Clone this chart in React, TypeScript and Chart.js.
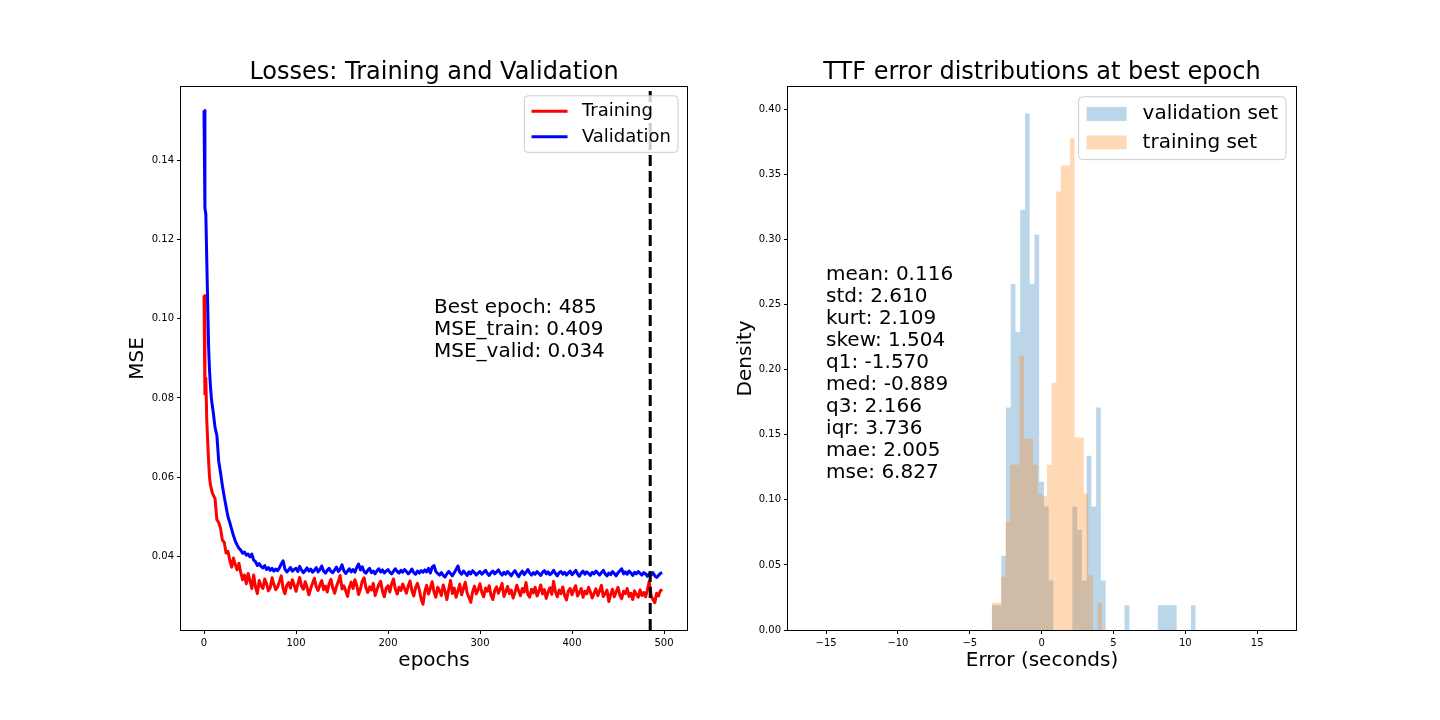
import React, { useEffect, useRef } from "react";
import { Chart, registerables } from "chart.js";

Chart.register(...registerables);

const FONT = "'DejaVu Sans', 'Liberation Sans', sans-serif";

// ---------------- Left panel: training / validation losses ----------------
const epochs = [
  0, 1, 2, 3, 4, 5, 6, 7, 8, 9,
  10, 12, 14, 16, 18, 20, 22, 24, 26, 28,
  30, 32, 34, 36, 38, 40, 42, 44, 46, 48,
  50, 52, 54, 56, 58,
  60, 62, 64, 66, 68, 70, 72, 74, 76, 78,
  80, 82, 84, 86, 88, 90, 92, 94, 96, 98,
  100, 102, 104, 106, 108, 110, 112, 114, 116, 118,
  120, 122, 124, 126, 128, 130, 132, 134, 136, 138,
  140, 142, 144, 146, 148, 150, 152, 154, 156, 158,
  160, 162, 164, 166, 168, 170, 172, 174, 176, 178,
  180, 182, 184, 186, 188, 190, 192, 194, 196, 198,
  200, 202, 204, 206, 208, 210, 212, 214, 216, 218,
  220, 222, 224, 226, 228, 230, 232, 234, 236, 238,
  240, 242, 244, 246, 248, 250, 252, 254, 256, 258,
  260, 262, 264, 266, 268, 270, 272, 274, 276, 278,
  280, 282, 284, 286, 288, 290, 292, 294, 296, 298,
  300, 302, 304, 306, 308, 310, 312, 314, 316, 318,
  320, 322, 324, 326, 328, 330, 332, 334, 336, 338,
  340, 342, 344, 346, 348, 350, 352, 354, 356, 358,
  360, 362, 364, 366, 368, 370, 372, 374, 376, 378,
  380, 382, 384, 386, 388, 390, 392, 394, 396, 398,
  400, 402, 404, 406, 408, 410, 412, 414, 416, 418,
  420, 422, 424, 426, 428, 430, 432, 434, 436, 438,
  440, 442, 444, 446, 448, 450, 452, 454, 456, 458,
  460, 462, 464, 466, 468, 470, 472, 474, 476, 478,
  480, 482, 484, 486, 488, 490, 492, 494, 496, 498,
];

const trainLoss = [
  0.1059, 0.0810, 0.0850, 0.0745, 0.0690, 0.0640, 0.0600, 0.0580, 0.0570, 0.0560,
  0.0555, 0.0545, 0.0492, 0.0485, 0.0470, 0.0440, 0.0435, 0.0408, 0.0412, 0.0390,
  0.0372, 0.0395, 0.0378, 0.0365, 0.0382, 0.0358, 0.0340, 0.0352, 0.0330, 0.0356,
  0.0338, 0.0318, 0.0352, 0.0322, 0.0305,
  0.0338, 0.0325, 0.0318, 0.0342, 0.0330, 0.0312, 0.0320, 0.0345, 0.0328, 0.0315,
  0.0322, 0.0336, 0.0350, 0.0318, 0.0305, 0.0326, 0.0333, 0.0319, 0.0340, 0.0327,
  0.0311, 0.0329, 0.0346, 0.0323, 0.0316, 0.0335, 0.0320, 0.0302, 0.0318, 0.0331,
  0.0344, 0.0322, 0.0313, 0.0327, 0.0338, 0.0315, 0.0324, 0.0309, 0.0330, 0.0341,
  0.0319, 0.0306, 0.0323, 0.0336, 0.0351, 0.0317, 0.0325, 0.0312, 0.0298, 0.0321,
  0.0334, 0.0318, 0.0340, 0.0326, 0.0303, 0.0316, 0.0337, 0.0345, 0.0320, 0.0308,
  0.0322, 0.0314, 0.0331, 0.0300, 0.0315, 0.0328, 0.0336, 0.0311, 0.0297, 0.0319,
  0.0325, 0.0309, 0.0330, 0.0342, 0.0316, 0.0304, 0.0321, 0.0313, 0.0329, 0.0318,
  0.0306, 0.0324, 0.0337, 0.0312, 0.0299, 0.0320, 0.0331, 0.0315, 0.0292, 0.0278,
  0.0310, 0.0326, 0.0304, 0.0318, 0.0335, 0.0309, 0.0296, 0.0321, 0.0313, 0.0300,
  0.0327, 0.0311, 0.0290, 0.0316, 0.0338, 0.0305, 0.0319, 0.0296, 0.0312, 0.0329,
  0.0302, 0.0318, 0.0334, 0.0307, 0.0295, 0.0283, 0.0310, 0.0324, 0.0304, 0.0315,
  0.0330, 0.0308, 0.0297, 0.0319, 0.0311, 0.0325, 0.0301, 0.0290, 0.0313, 0.0322,
  0.0306, 0.0317, 0.0331, 0.0298, 0.0310, 0.0323, 0.0305, 0.0314, 0.0294, 0.0308,
  0.0326, 0.0312, 0.0300, 0.0318, 0.0309, 0.0333, 0.0303, 0.0296, 0.0316, 0.0307,
  0.0321, 0.0299, 0.0311, 0.0327, 0.0304, 0.0315, 0.0293, 0.0309, 0.0320, 0.0303,
  0.0336, 0.0310, 0.0297, 0.0314, 0.0305, 0.0322, 0.0300, 0.0289, 0.0312, 0.0318,
  0.0302, 0.0315, 0.0325, 0.0299, 0.0308, 0.0318, 0.0296, 0.0311, 0.0304, 0.0321,
  0.0309, 0.0294, 0.0306, 0.0317, 0.0300, 0.0312, 0.0326, 0.0298, 0.0305, 0.0314,
  0.0285, 0.0303, 0.0316, 0.0297, 0.0309, 0.0321, 0.0301, 0.0292, 0.0311, 0.0305,
  0.0318, 0.0298, 0.0306, 0.0290, 0.0312, 0.0303, 0.0296, 0.0314, 0.0300, 0.0308,
  0.0297, 0.0315, 0.0336, 0.0300, 0.0290, 0.0282, 0.0306, 0.0299, 0.0312, 0.0316,
];

const validLoss = [
  0.1527, 0.1280, 0.1265, 0.1150, 0.1040, 0.0930, 0.0870, 0.0830, 0.0800, 0.0780,
  0.0765, 0.0725, 0.0705, 0.0640, 0.0610, 0.0578, 0.0550, 0.0525, 0.0500, 0.0485,
  0.0468, 0.0452, 0.0438, 0.0428, 0.0420, 0.0415, 0.0407, 0.0410, 0.0402, 0.0405,
  0.0398, 0.0405, 0.0390, 0.0386, 0.0376,
  0.0381, 0.0374, 0.0370, 0.0376, 0.0366, 0.0371, 0.0364, 0.0369, 0.0362, 0.0367,
  0.0363, 0.0370, 0.0380, 0.0388, 0.0367, 0.0360, 0.0365, 0.0371, 0.0362, 0.0366,
  0.0369, 0.0361, 0.0374, 0.0365, 0.0358, 0.0363, 0.0370, 0.0362, 0.0367, 0.0359,
  0.0364, 0.0371, 0.0360, 0.0366, 0.0375, 0.0362, 0.0357, 0.0364, 0.0369, 0.0361,
  0.0358, 0.0365, 0.0372, 0.0361, 0.0367, 0.0378, 0.0363, 0.0356, 0.0362, 0.0368,
  0.0360, 0.0366, 0.0359, 0.0371, 0.0380, 0.0365, 0.0373, 0.0361, 0.0357, 0.0364,
  0.0369, 0.0358, 0.0362, 0.0355, 0.0363, 0.0368, 0.0360, 0.0365, 0.0357, 0.0362,
  0.0366, 0.0359, 0.0355, 0.0362, 0.0368, 0.0361, 0.0357, 0.0364, 0.0359, 0.0366,
  0.0361, 0.0355, 0.0360, 0.0367, 0.0358, 0.0354, 0.0362, 0.0357, 0.0363, 0.0359,
  0.0365, 0.0360, 0.0369, 0.0357, 0.0372, 0.0376, 0.0361, 0.0356, 0.0352, 0.0358,
  0.0351, 0.0347, 0.0355, 0.0361, 0.0356, 0.0350, 0.0358, 0.0366, 0.0375, 0.0359,
  0.0354, 0.0362, 0.0357, 0.0351, 0.0360, 0.0355, 0.0363, 0.0358, 0.0352, 0.0357,
  0.0361, 0.0354, 0.0359, 0.0364, 0.0356, 0.0351, 0.0358, 0.0362, 0.0355, 0.0360,
  0.0365, 0.0357, 0.0352, 0.0359, 0.0354, 0.0361, 0.0356, 0.0350, 0.0358, 0.0363,
  0.0355, 0.0348, 0.0356, 0.0362, 0.0353, 0.0359, 0.0366, 0.0357, 0.0352, 0.0358,
  0.0354, 0.0361, 0.0356, 0.0351, 0.0359, 0.0363, 0.0355, 0.0360, 0.0353, 0.0357,
  0.0364, 0.0356, 0.0350, 0.0358, 0.0361, 0.0354, 0.0359, 0.0352, 0.0357, 0.0362,
  0.0353, 0.0358, 0.0364, 0.0355, 0.0349, 0.0357, 0.0362, 0.0354, 0.0360, 0.0356,
  0.0351, 0.0359, 0.0355, 0.0362, 0.0357, 0.0352, 0.0358, 0.0364, 0.0355, 0.0350,
  0.0357, 0.0353, 0.0361, 0.0356, 0.0350, 0.0358, 0.0363, 0.0368, 0.0355, 0.0360,
  0.0354, 0.0362, 0.0357, 0.0351, 0.0359, 0.0355, 0.0361, 0.0356, 0.0352, 0.0358,
  0.0355, 0.0349, 0.0356, 0.0352, 0.0358, 0.0350, 0.0346, 0.0351, 0.0356, 0.0358,
];

const lossLabels = ["Training", "Validation"];
const lossColors = ["#ff0000", "#0000ff"];
const bestEpoch = 485;
const bestNotes = ["Best epoch: 485", "MSE_train: 0.409", "MSE_valid: 0.034"];

// ---------------- Right panel: error histograms ----------------
const validBinEdges = [
  -3.47, -3.14, -2.81, -2.48, -2.15, -1.82, -1.49, -1.16, -0.83, -0.5,
  -0.17, 0.16, 0.49, 0.82, 1.15, 1.48, 1.81, 2.14, 2.47, 2.8,
  3.13, 3.46, 3.79, 4.12, 4.45, 4.78, 5.11, 5.44, 5.77, 6.1,
  6.43, 6.76, 7.09, 7.42, 7.75, 8.08, 8.41, 8.74, 9.07, 9.4,
  9.73, 10.06, 10.39, 10.72,
];
const validDensity = [
  0.019, 0.019, 0.057, 0.171, 0.266, 0.229, 0.323, 0.397, 0.266, 0.304,
  0.114, 0.095, 0.038, 0, 0, 0, 0, 0.095, 0.077, 0.038,
  0.134, 0.095, 0.171, 0.038, 0, 0, 0, 0, 0.019, 0,
  0, 0, 0, 0, 0, 0.019, 0.019, 0.019, 0.019, 0,
  0, 0, 0.019,
];
const trainBinEdges = [
  -3.47, -3.15, -2.83, -2.51, -2.19, -1.87, -1.55, -1.23, -0.91, -0.59,
  -0.27, 0.05, 0.37, 0.69, 1.01, 1.33, 1.65, 1.97, 2.29, 2.61,
  2.93, 3.25, 3.57, 3.89, 4.21,
];
const trainDensity = [
  0.021, 0.021, 0.041, 0.083, 0.127, 0.127, 0.211, 0.147, 0.147, 0.127,
  0.105, 0.103, 0.127, 0.19, 0.337, 0.357, 0.357, 0.378, 0.148, 0.148,
  0.105, 0.042, 0, 0.021,
];
const histLabels = ["validation set", "training set"];
const histColors = ["rgba(31,119,180,0.3)", "rgba(255,127,14,0.3)"];
const statLines = [
  "mean: 0.116",
  "std: 2.610",
  "kurt: 2.109",
  "skew: 1.504",
  "q1: -1.570",
  "med: -0.889",
  "q3: 2.166",
  "iqr: 3.736",
  "mae: 2.005",
  "mse: 6.827",
];

// ---------------- helpers ----------------
function histPoints(edges: number[], dens: number[]) {
  return edges.map((e, i) => ({ x: e, y: i < dens.length ? dens[i] : 0 }));
}

type LegendItem = { label: string; color: string; kind: "line" | "patch" };

function drawLegend(ctx: CanvasRenderingContext2D, area: any, items: LegendItem[], fs: number) {
  ctx.save();
  ctx.font = `${fs}px ${FONT}`;
  const pad = 0.4 * fs;
  const rowH = 0.92 * fs;
  const gap = 0.5 * fs;
  const hl = 2 * fs;
  const hp = 0.8 * fs;
  const tw = Math.max(...items.map((i) => ctx.measureText(i.label).width));
  const w = pad + hl + hp + tw + pad;
  const h = 2 * pad + items.length * rowH + (items.length - 1) * gap;
  const right = area.right - 0.5 * fs;
  const top = area.top + 0.5 * fs;
  const left = right - w;
  ctx.beginPath();
  (ctx as any).roundRect(left, top, w, h, 0.2 * fs);
  ctx.fillStyle = "rgba(255,255,255,0.8)";
  ctx.fill();
  ctx.strokeStyle = "#cccccc";
  ctx.lineWidth = 1;
  ctx.stroke();
  items.forEach((it, i) => {
    const cy = top + pad + rowH / 2 + i * (rowH + gap);
    if (it.kind === "line") {
      ctx.beginPath();
      ctx.moveTo(left + pad, cy);
      ctx.lineTo(left + pad + hl, cy);
      ctx.strokeStyle = it.color;
      ctx.lineWidth = 3;
      ctx.lineCap = "butt";
      ctx.stroke();
    } else {
      ctx.fillStyle = it.color;
      ctx.fillRect(left + pad, cy - 0.35 * fs, hl, 0.7 * fs);
    }
    ctx.fillStyle = "#000";
    ctx.textAlign = "left";
    ctx.textBaseline = "middle";
    ctx.fillText(it.label, left + pad + hl + hp, cy);
  });
  ctx.restore();
}

function drawFrame(ctx: CanvasRenderingContext2D, a: any) {
  ctx.save();
  ctx.strokeStyle = "#000";
  ctx.lineWidth = 1;
  const l = Math.round(a.left) - 0.5;
  const t = Math.round(a.top) - 0.5;
  const r = Math.round(a.right) + 0.5;
  const b = Math.round(a.bottom) + 0.5;
  ctx.strokeRect(l, t, r - l, b - t);
  ctx.restore();
}

function drawLines(ctx: CanvasRenderingContext2D, lines: string[], x: number, y: number, fs: number, step: number) {
  ctx.save();
  ctx.font = `${fs}px ${FONT}`;
  ctx.fillStyle = "#000";
  ctx.textAlign = "left";
  ctx.textBaseline = "middle";
  lines.forEach((s, i) => ctx.fillText(s, x, y + i * step));
  ctx.restore();
}

const lossDecor = {
  id: "lossDecor",
  afterDatasetsDraw(chart: any) {
    const { ctx, chartArea: a, scales } = chart;
    const px = scales.x.getPixelForValue(bestEpoch);
    ctx.save();
    ctx.beginPath();
    ctx.rect(a.left, a.top, a.right - a.left, a.bottom - a.top);
    ctx.clip();
    ctx.setLineDash([11, 5]);
    ctx.lineWidth = 3;
    ctx.strokeStyle = "#000";
    ctx.beginPath();
    ctx.moveTo(px, a.bottom);
    ctx.lineTo(px, a.top);
    ctx.stroke();
    ctx.restore();
    drawLines(ctx, bestNotes, scales.x.getPixelForValue(250), scales.y.getPixelForValue(0.1028), 20, 22);
    drawFrame(ctx, a);
    drawLegend(
      ctx,
      a,
      lossLabels.map((l, i) => ({ label: l, color: lossColors[i], kind: "line" as const })),
      18
    );
  },
};

const histDecor = {
  id: "histDecor",
  afterDatasetsDraw(chart: any) {
    const { ctx, chartArea: a, scales } = chart;
    drawLines(ctx, statLines, scales.x.getPixelForValue(-15), scales.y.getPixelForValue(0.2727), 20, 22);
    drawFrame(ctx, a);
    drawLegend(
      ctx,
      a,
      histLabels.map((l, i) => ({ label: l, color: histColors[i], kind: "patch" as const })),
      20
    );
  },
};

function tickCfg(stepSize: number, cb: (v: number) => string) {
  return {
    stepSize,
    includeBounds: false,
    autoSkip: false,
    maxRotation: 0,
    padding: 3,
    color: "#000",
    font: { family: FONT, size: 10 },
    callback: (v: any) => cb(Number(v)),
  };
}

const gridCfg = {
  display: true,
  drawOnChartArea: false,
  drawTicks: true,
  tickLength: 4,
  color: "#000",
  lineWidth: 1,
};

function titleCfg(text: string) {
  return {
    display: true,
    text,
    color: "#000",
    font: { family: FONT, size: 24, weight: "normal" as const },
    padding: { top: 58, bottom: 0 },
    fullSize: false,
  };
}

function axisTitle(text: string) {
  return { display: true, text, color: "#000", font: { family: FONT, size: 20 }, padding: 0 };
}

const minus = (v: number) => (v < 0 ? "\u2212" + Math.abs(v) : String(v));

export default function App() {
  const leftRef = useRef<HTMLCanvasElement | null>(null);
  const rightRef = useRef<HTMLCanvasElement | null>(null);

  useEffect(() => {
    document.body.style.margin = "0";
    const left = new Chart(leftRef.current as HTMLCanvasElement, {
      type: "line",
      data: {
        datasets: [
          {
            label: lossLabels[0],
            data: epochs.map((e, i) => ({ x: e, y: trainLoss[i] })),
            borderColor: lossColors[0],
            borderWidth: 3,
            pointRadius: 0,
            tension: 0,
            fill: false,
            borderJoinStyle: "round",
            order: 1,
          },
          {
            label: lossLabels[1],
            data: epochs.map((e, i) => ({ x: e, y: validLoss[i] })),
            borderColor: lossColors[1],
            borderWidth: 3,
            pointRadius: 0,
            tension: 0,
            fill: false,
            borderJoinStyle: "round",
            order: 0,
          },
        ],
      },
      options: {
        animation: false,
        responsive: false,
        maintainAspectRatio: false,
        devicePixelRatio: 1,
        events: [],
        layout: { padding: { left: 126, right: 33, top: 0, bottom: 47 } },
        plugins: {
          legend: { display: false },
          tooltip: { enabled: false },
          title: titleCfg("Losses: Training and Validation"),
        },
        scales: {
          x: {
            type: "linear",
            min: -25,
            max: 525,
            border: { display: false },
            grid: gridCfg,
            ticks: tickCfg(100, (v) => String(v)),
            title: axisTitle("epochs"),
            afterFit: (s: any) => {
              s.height = 43;
            },
          },
          y: {
            type: "linear",
            min: 0.0213,
            max: 0.1587,
            border: { display: false },
            grid: gridCfg,
            ticks: tickCfg(0.02, (v) => v.toFixed(2)),
            title: axisTitle("MSE"),
            afterFit: (s: any) => {
              s.width = 55;
            },
          },
        },
      } as any,
      plugins: [lossDecor],
    });

    const right = new Chart(rightRef.current as HTMLCanvasElement, {
      type: "line",
      data: {
        datasets: [
          {
            label: histLabels[0],
            data: histPoints(validBinEdges, validDensity),
            stepped: "before",
            borderWidth: 0,
            pointRadius: 0,
            backgroundColor: histColors[0],
            borderColor: "rgba(0,0,0,0)",
            fill: "origin",
            order: 1,
          },
          {
            label: histLabels[1],
            data: histPoints(trainBinEdges, trainDensity),
            stepped: "before",
            borderWidth: 0,
            pointRadius: 0,
            backgroundColor: histColors[1],
            borderColor: "rgba(0,0,0,0)",
            fill: "origin",
            order: 0,
          },
        ],
      },
      options: {
        animation: false,
        responsive: false,
        maintainAspectRatio: false,
        devicePixelRatio: 1,
        events: [],
        layout: { padding: { left: 14, right: 144, top: 0, bottom: 47 } },
        plugins: {
          legend: { display: false },
          tooltip: { enabled: false },
          title: titleCfg("TTF error distributions at best epoch"),
        },
        scales: {
          x: {
            type: "linear",
            min: -17.65,
            max: 17.7,
            border: { display: false },
            grid: gridCfg,
            ticks: tickCfg(5, minus),
            title: axisTitle("Error (seconds)"),
            afterFit: (s: any) => {
              s.height = 43;
            },
          },
          y: {
            type: "linear",
            min: 0,
            max: 0.4175,
            border: { display: false },
            grid: gridCfg,
            ticks: tickCfg(0.05, (v) => v.toFixed(2)),
            title: axisTitle("Density"),
            afterFit: (s: any) => {
              s.width = 54;
            },
          },
        },
      } as any,
      plugins: [histDecor],
    });

    return () => {
      left.destroy();
      right.destroy();
    };
  }, []);

  return (
    <div
      style={{
        position: "fixed",
        left: 0,
        top: 0,
        width: 1440,
        height: 720,
        background: "#fff",
        overflow: "hidden",
      }}
    >
      <canvas
        ref={leftRef}
        width={720}
        height={720}
        style={{ position: "absolute", left: 0, top: 0, width: 720, height: 720, display: "block" }}
      />
      <canvas
        ref={rightRef}
        width={720}
        height={720}
        style={{ position: "absolute", left: 720, top: 0, width: 720, height: 720, display: "block" }}
      />
    </div>
  );
}
